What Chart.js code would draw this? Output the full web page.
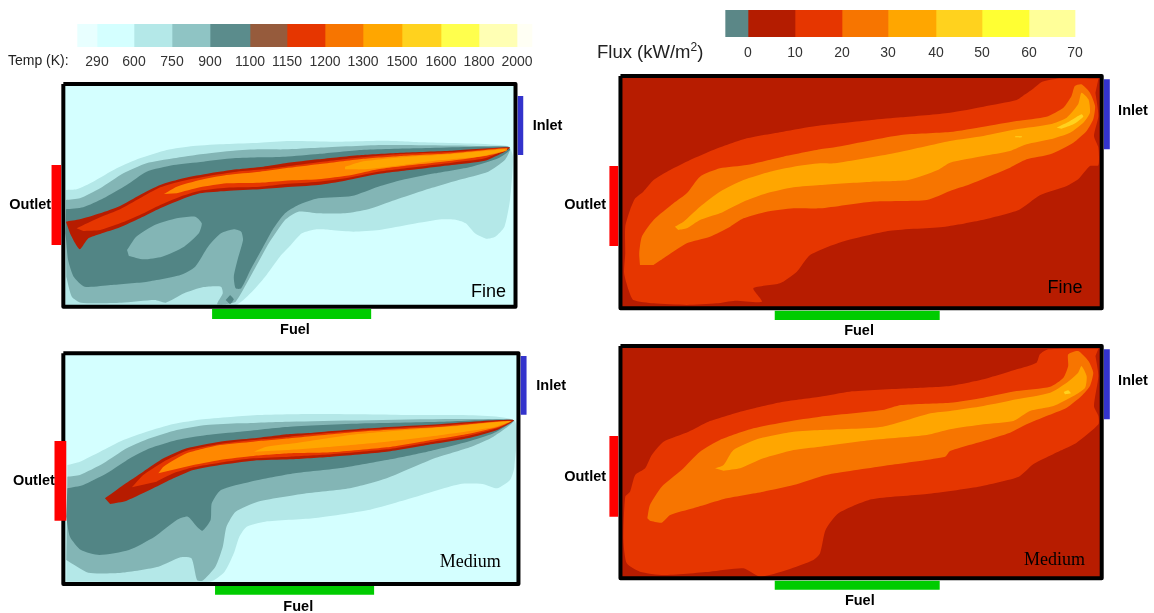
<!DOCTYPE html>
<html><head><meta charset="utf-8">
<script src="https://cdn.jsdelivr.net/npm/chart.js@4"></script>
<style>
html,body{margin:0;padding:0;background:#fff;width:1154px;height:613px;overflow:hidden}
canvas{position:absolute}
.t{position:absolute;font-family:"Liberation Sans",sans-serif;color:#222;white-space:nowrap}
sup{font-size:.65em;line-height:0}
</style></head><body>
<canvas id="pA" width="577" height="340" style="left:0;top:0"></canvas>
<canvas id="pB" width="607" height="340" style="left:547px;top:0"></canvas>
<canvas id="pC" width="577" height="273" style="left:0;top:340px"></canvas>
<canvas id="pD" width="607" height="273" style="left:547px;top:340px"></canvas>
<canvas id="cT" width="577" height="50" style="left:0;top:24px"></canvas>
<canvas id="cF" width="577" height="52" style="left:577px;top:10px"></canvas>
<div class="t" style="left:8px;top:52px;font-size:14px">Temp (K):</div>
<div class="t" style="left:597px;top:41px;font-size:18.5px">Flux (kW/m<sup>2</sup>)</div>
<script>
// Colour bars
const tempLabels=['290','600','750','900','1100','1150','1200','1300','1500','1600','1800','2000'];
const tempWidths=[77,20,37,38,38,40,37,38,38,39,39,38,38,15];
const tempColors=['#fff','#E8FFFF','#D4FFFF','#B4E8E8','#8FC4C4','#5B8C8C','#965B3C','#E63600','#F77500','#FFA600','#FFD21E','#FFFF4D','#FFFFB4','#FFFFF4'];
const fluxLabels=['0','10','20','30','40','50','60','70'];
const fluxWidths=[148,23,47,47,46,48,46,47,46];
const fluxColors=['#fff','#5B8787','#B41C00','#E63600','#F77500','#FFA600','#FFD21E','#FFFF33','#FFFF99'];

const tempBg='#D4FFFF', fluxBg='#B71C00';
const frameA=[172,1400,252,920], frameB=[118,1425,228,925], frameC=[172,1408,40,732], frameD=[118,1425,18,715];

// Temperature, fine mesh
const fineT600=[[179,570],[208,568],[253,545],[317,505],[380,475],[453,450],[525,438],[615,432],[706,428],[787,423],[910,425],[1046,422],[1154,427],[1380,438],[1393,470],[1385,600],[1370,680],[1345,710],[1320,716],[1290,700],[1265,670],[1240,660],[1200,658],[1120,672],[1030,690],[960,695],[900,690],[860,688],[820,700],[790,735],[760,770],[720,830],[680,880],[640,915],[178,915]];
const fineT750=[[179,600],[217,595],[272,565],[335,520],[398,490],[471,475],[552,462],[634,452],[706,448],[774,448],[864,443],[1046,435],[1380,440],[1385,450],[1371,480],[1326,515],[1245,540],[1154,570],[1073,600],[1000,628],[937,640],[864,640],[810,635],[774,660],[730,730],[700,790],[670,850],[640,905],[615,912],[590,912],[605,880],[600,860],[550,862],[500,880],[450,908],[420,900],[330,908],[220,908],[195,890],[180,830]];
const fineT900=[[179,628],[226,622],[281,595],[344,555],[398,515],[471,495],[552,485],[634,475],[706,472],[774,470],[864,462],[982,450],[1136,445],[1380,440],[1385,450],[1353,475],[1281,500],[1181,520],[1091,540],[1027,560],[955,588],[864,595],[810,615],[774,640],[740,690],[710,750],[680,810],[655,865],[640,865],[635,830],[645,780],[660,720],[655,695],[635,688],[600,700],[565,740],[530,800],[490,825],[400,845],[300,855],[230,860],[200,830],[185,780],[178,700]];
const fineTIsland=[[345,750],[370,710],[420,675],[480,655],[530,650],[548,670],[540,700],[500,740],[440,770],[390,778],[350,768]];
const fineTDot=[[625,885],[635,898],[625,912],[613,900]];
const fineT1100=[[179,665],[217,658],[272,640],[326,618],[380,585],[435,555],[498,535],[570,520],[643,508],[715,500],[774,490],[864,478],[982,465],[1091,458],[1227,452],[1385,442],[1371,455],[1317,482],[1227,495],[1136,507],[1027,522],[937,542],[864,555],[774,562],[706,568],[615,573],[543,580],[489,600],[435,625],[380,655],[326,682],[272,702],[240,715],[217,748],[204,730],[190,700]];
const fineT1150=[[208,685],[272,652],[326,628],[380,595],[435,562],[498,542],[570,527],[643,515],[715,508],[774,500],[864,487],[982,472],[1091,462],[1227,456],[1380,444],[1317,475],[1227,488],[1136,500],[1027,515],[946,533],[864,545],[774,552],[706,560],[615,563],[543,572],[489,590],[435,615],[380,645],[326,670],[272,690],[226,693]];
const fineT1200=[[445,582],[480,560],[543,540],[615,525],[706,515],[774,505],[864,493],[982,477],[1091,468],[1227,460],[1376,445],[1376,452],[1317,468],[1227,482],[1136,493],[1027,508],[955,525],[864,538],[774,542],[706,548],[615,550],[543,562],[480,580]];
const fineT1300=[[937,500],[982,485],[1091,472],[1227,462],[1371,448],[1371,452],[1299,470],[1181,482],[1073,498],[991,508],[937,508]];

// Flux, fine mesh
const fineF10=[[1416,236],[1303,236],[1262,246],[1239,266],[1217,283],[1194,300],[1104,320],[1013,338],[880,352],[800,360],[650,378],[560,395],[461,415],[370,450],[307,480],[253,510],[208,540],[180,575],[158,595],[144,630],[131,680],[131,760],[128,820],[140,870],[153,900],[208,910],[298,915],[379,910],[429,902],[502,905],[479,865],[551,850],[597,815],[633,765],[720,725],[850,692],[1000,680],[1100,660],[1200,630],[1257,586],[1330,558],[1361,538],[1393,498],[1416,496],[1416,443],[1404,408],[1416,348],[1408,278]];
const fineF20=[[171,795],[169,760],[176,710],[208,660],[262,610],[298,580],[334,530],[388,505],[461,495],[560,470],[660,448],[700,442],[880,405],[1013,396],[1104,380],[1194,363],[1275,350],[1321,323],[1343,288],[1352,258],[1370,253],[1393,278],[1407,318],[1402,358],[1384,393],[1348,428],[1285,463],[1221,478],[1176,503],[1122,528],[1067,553],[1013,573],[950,600],[800,605],[660,625],[588,625],[515,635],[452,655],[416,680],[361,710],[298,730],[235,775],[208,795]];
const fineF30=[[266,680],[289,665],[334,620],[388,575],[452,540],[524,515],[588,500],[660,490],[700,490],[860,460],[1013,423],[1104,408],[1194,388],[1285,373],[1330,353],[1361,313],[1370,278],[1389,298],[1393,338],[1375,368],[1339,398],[1285,418],[1221,433],[1176,453],[1104,468],[1013,488],[980,510],[900,540],[800,545],[660,555],[588,562],[515,580],[452,605],[388,640],[334,660],[298,685],[275,690]];
const fineF40=[[1303,383],[1339,363],[1370,343],[1375,350],[1348,373],[1316,386]];
const fineF40b=[[1190,409],[1208,409],[1208,412],[1190,412]];

// Temperature, medium mesh
const medT600=[[183,375],[217,365],[272,335],[335,300],[398,275],[471,252],[552,238],[634,230],[706,225],[850,222],[1100,225],[1395,240],[1397,380],[1385,420],[1350,445],[1310,432],[1250,432],[1130,470],[1000,510],[850,535],[720,545],[670,560],[650,590],[635,640],[610,695],[570,725],[180,725]];
const medT750=[[183,410],[217,405],[281,370],[344,325],[407,295],[480,270],[561,255],[652,250],[787,245],[1395,240],[1340,290],[1280,320],[1180,355],[1050,415],[950,445],[820,462],[700,485],[640,515],[615,560],[605,620],[585,680],[550,722],[535,720],[520,655],[490,652],[430,680],[330,698],[240,698],[180,660]];
const medT900=[[183,445],[226,435],[290,400],[353,355],[407,325],[480,300],[561,285],[652,275],[787,260],[1000,250],[1200,245],[1395,240],[1340,280],[1270,305],[1160,335],[1050,360],[920,385],[800,400],[680,425],[600,450],[575,490],[572,540],[550,572],[535,560],[510,530],[480,540],[420,590],[350,630],[270,645],[220,630],[190,590],[180,530]];
const medT1100=[[285,475],[335,435],[389,395],[444,355],[507,325],[597,305],[688,295],[787,282],[850,278],[1000,265],[1200,252],[1395,240],[1350,270],[1270,295],[1160,315],[1050,335],[900,350],[787,358],[688,362],[597,375],[525,390],[471,415],[416,445],[344,482],[299,492]];
const medT1150=[[358,442],[389,405],[444,365],[507,332],[597,312],[688,300],[787,290],[850,283],[1000,270],[1200,256],[1390,242],[1350,265],[1270,288],[1160,308],[1050,328],[900,343],[787,350],[688,355],[597,368],[525,382],[471,400],[425,425]];
const medT1200=[[430,400],[444,380],[507,340],[597,315],[688,305],[787,295],[850,288],[1000,273],[1200,260],[1388,243],[1350,262],[1270,282],[1160,302],[1050,322],[900,337],[787,340],[688,348],[597,360],[525,375]];
const medT1300=[[690,335],[724,320],[800,310],[950,285],[1100,270],[1250,257],[1385,244],[1340,262],[1200,285],[1050,305],[900,320],[780,330]];

// Flux, medium mesh
const medF10=[[1416,26],[1280,28],[1257,43],[1248,68],[1194,88],[1104,118],[1013,138],[900,145],[740,155],[660,170],[560,185],[461,210],[357,245],[303,275],[235,305],[203,345],[185,385],[158,405],[144,455],[131,470],[126,600],[135,670],[171,695],[235,705],[361,695],[452,685],[497,710],[570,690],[642,660],[660,640],[675,570],[710,520],[800,478],[950,462],[1090,440],[1200,410],[1239,373],[1321,328],[1357,308],[1416,253],[1416,228],[1404,198],[1416,108],[1408,48]];
const medF20=[[191,535],[198,495],[230,440],[284,390],[334,335],[388,300],[479,265],[570,245],[660,230],[830,210],[880,195],[1013,188],[1104,173],[1194,153],[1285,140],[1321,113],[1334,78],[1334,43],[1361,33],[1389,63],[1402,98],[1393,138],[1370,168],[1330,203],[1275,228],[1221,253],[1176,278],[1104,303],[1013,333],[1000,350],[850,375],[700,400],[660,410],[588,435],[506,455],[407,475],[316,505],[253,525],[230,548],[198,542]];
const medF30=[[375,385],[398,375],[425,330],[497,295],[588,275],[660,270],[830,260],[960,220],[1013,213],[1104,198],[1194,178],[1285,158],[1330,128],[1361,98],[1370,78],[1384,108],[1380,143],[1348,168],[1294,198],[1230,213],[1185,243],[1104,253],[1013,268],[950,285],[800,300],[660,320],[588,330],[506,355],[443,385],[398,392]];
const medF40=[[1322,156],[1334,151],[1341,160],[1325,163]];

const C={t600:'#B4E8E8',t750:'#83B5B5',t900:'#528585',t1100:'#B71C00',t1150:'#E63600',t1200:'#FF8800',t1300:'#FFA600',f10:'#E63600',f20:'#F77500',f30:'#FFA600',f40:'#FFD21E',inlet:'#3333CC',outlet:'#FF0000',fuel:'#00CC00'};

function poly(pts,color,tension){return {data:pts.map(p=>({x:p[0],y:p[1]})),backgroundColor:color,borderWidth:0,pointRadius:0,fill:'shape',tension:tension};}
function rect(r){return [[r[0],r[2]],[r[1],r[2]],[r[1],r[3]],[r[0],r[3]]];}
const textPlugin={id:'txt',afterDraw(ch){const c=ch.ctx;c.save();c.fillStyle='#000';c.textAlign='center';c.textBaseline='middle';
  (ch.config.options.notes||[]).forEach(n=>{c.font=n[3];c.fillText(n[0],ch.scales.x.getPixelForValue(n[1]),ch.scales.y.getPixelForValue(n[2]));});c.restore();}};

function panel(id,H,xMin,frame,bg,layers,bars,notes){
  const ds=[poly(rect(frame),bg,0)];
  layers.forEach(l=>ds.push(poly(l[0],l[1],0.2)));
  const f=poly(rect(frame).concat([[frame[0],frame[2]]]),'transparent',0);
  f.fill=false;f.borderColor='#000';f.borderWidth=4;f.borderJoinStyle='round';ds.push(f);
  bars.forEach(b=>ds.push(poly(rect(b[0]),b[1],0)));
  ds.forEach((d,i)=>d.order=ds.length-i);
  new Chart(document.getElementById(id),{type:'line',data:{datasets:ds},plugins:[textPlugin],options:{
    notes:notes,responsive:false,animation:false,events:[],layout:{padding:0},
    plugins:{legend:{display:false},tooltip:{enabled:false}},
    scales:{x:{type:'linear',display:false,min:xMin,max:1567},y:{type:'linear',display:false,reverse:true,min:0,max:H}}}});
}
const LB='bold 14.5px "Liberation Sans"', LF='18px "Liberation Sans"', LM='18px "Liberation Serif"';
panel('pA',1020,0,frameA,tempBg,[[fineT600,C.t600],[fineT750,C.t750],[fineT900,C.t900],[fineTIsland,C.t750],[fineTDot,C.t900],[fineT1100,C.t1100],[fineT1150,C.t1150],[fineT1200,C.t1200],[fineT1300,C.t1300]],
  [[[1406,1421,288,465],C.inlet],[[140,166,495,735],C.outlet],[[576,1008,927,957],C.fuel]],
  [['Outlet',82,616,LB],['Inlet',1487,377,LB],['Fuel',801,991,LB],['Fine',1327,875,LF]]);
panel('pB',1020,-81.5,frameB,fluxBg,[[fineF10,C.f10],[fineF20,C.f20],[fineF30,C.f30],[fineF40,C.f40],[fineF40b,C.f40]],
  [[[1431,1447,238,448],C.inlet],[[88,112,498,738],C.outlet],[[537,985,932,960],C.fuel]],
  [['Outlet',22,616,LB],['Inlet',1510,332,LB],['Fuel',766,994,LB],['Fine',1325,865,LF]]);
panel('pC',819,0,frameC,tempBg,[[medT600,C.t600],[medT750,C.t750],[medT900,C.t900],[medT1100,C.t1100],[medT1150,C.t1150],[medT1200,C.t1200],[medT1300,C.t1300]],
  [[[1414,1430,48,224],C.inlet],[[148,180,303,542],C.outlet],[[584,1016,738,764],C.fuel]],
  [['Outlet',92,422,LB],['Inlet',1497,137,LB],['Fuel',810,800,LB],['Medium',1277,668,LM]]);
panel('pD',819,-81.5,frameD,fluxBg,[[medF10,C.f10],[medF20,C.f20],[medF30,C.f30],[medF40,C.f40]],
  [[[1431,1447,28,238],C.inlet],[[88,112,288,530],C.outlet],[[537,985,722,749],C.fuel]],
  [['Outlet',22,411,LB],['Inlet',1510,124,LB],['Fuel',768,784,LB],['Medium',1297,660,LM]]);

function colorbar(id,widths,colors,labels,axisH,pad){
  let pos=0;const edges=widths.map(w=>{pos+=w;return pos;});
  const ticks=edges.slice(1,1+labels.length);
  new Chart(document.getElementById(id),{type:'bar',data:{labels:['bar'],datasets:widths.map((w,i)=>({data:[w],backgroundColor:colors[i],borderWidth:0,barPercentage:1,categoryPercentage:1}))},
   options:{indexAxis:'y',responsive:false,animation:false,events:[],layout:{padding:0},plugins:{legend:{display:false},tooltip:{enabled:false}},
    scales:{y:{stacked:true,display:false},
     x:{type:'linear',stacked:true,min:0,max:577,border:{display:false},grid:{display:false,drawTicks:false},
      afterBuildTicks(a){a.ticks=ticks.map(v=>({value:v}));},
      afterFit(a){a.height=axisH;},
      ticks:{autoSkip:false,maxRotation:0,minRotation:0,padding:pad,color:'#333',font:{family:'"Liberation Sans"',size:14},
       callback(v){return labels[ticks.indexOf(v)];}}}}}});
}
colorbar('cT',tempWidths,tempColors,tempLabels,27,7);
colorbar('cF',fluxWidths,fluxColors,fluxLabels,25,8);
</script></body></html>
